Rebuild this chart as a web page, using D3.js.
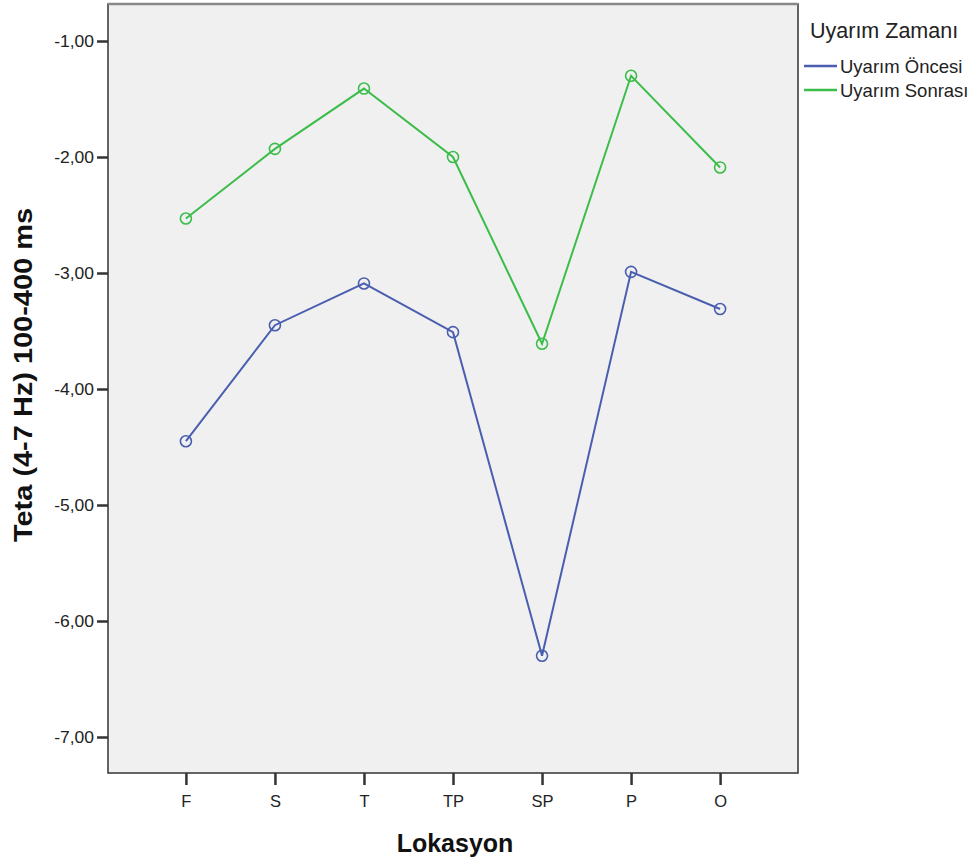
<!DOCTYPE html>
<html>
<head>
<meta charset="utf-8">
<script src="https://cdn.jsdelivr.net/npm/d3@7"></script>
<style>
  html, body { margin: 0; padding: 0; background: #ffffff; }
  svg { display: block; font-family: Arial, "Liberation Sans", sans-serif; }
</style>
</head>
<body>
<svg id="chart" width="975" height="865"></svg>
<script>
// Categories (x axis) and the two series of mean theta values
const locations = ["F", "S", "T", "TP", "SP", "P", "O"];
const oncesi = [-4.45, -3.45, -3.09, -3.51, -6.30, -2.99, -3.31];
const sonrasi = [-2.53, -1.93, -1.41, -2.00, -3.61, -1.30, -2.09];
const seriesNames = ["Uyarım Öncesi", "Uyarım Sonrası"];
const seriesColors = ["#4a5eb0", "#3cbd4a"];
const yTicks = [-1, -2, -3, -4, -5, -6, -7];

const svg = d3.select("#chart");
const plot = { left: 108, right: 798, top: 4, bottom: 773 };
const FONT = "Arial, 'Liberation Sans', sans-serif";

const x = d3.scalePoint()
  .domain(locations)
  .range([plot.left, plot.right])
  .padding(0.875);

const y = d3.scaleLinear()
  .domain([-7, -1])
  .range([737, 41]);

// Slightly widened lettering, as in the original export
function widen(sel, factor) {
  sel.each(function () {
    const w = this.getComputedTextLength();
    d3.select(this)
      .attr("textLength", w * factor)
      .attr("lengthAdjust", "spacingAndGlyphs");
  });
}

// Plot background and frame
svg.append("rect")
  .attr("x", plot.left).attr("y", plot.top)
  .attr("width", plot.right - plot.left)
  .attr("height", plot.bottom - plot.top)
  .attr("fill", "#f0f0f0")
  .attr("stroke", "#333")
  .attr("stroke-width", 1.5);

svg.append("line")
  .attr("x1", plot.left).attr("x2", plot.right)
  .attr("y1", plot.top).attr("y2", plot.top)
  .attr("stroke", "#888").attr("stroke-width", 2.5);

// Y axis
const yAxis = svg.append("g")
  .attr("transform", `translate(${plot.left},0)`)
  .call(d3.axisLeft(y)
    .tickValues(yTicks)
    .tickSize(11)
    .tickPadding(3)
    .tickFormat(d => d3.format(".2f")(d).replace(".", ",").replace("\u2212", "-")));
yAxis.select(".domain").remove();
yAxis.selectAll(".tick line").attr("stroke", "#333").attr("stroke-width", 2.5);
yAxis.selectAll(".tick text")
  .attr("font-size", 16.5).attr("fill", "#222")
  .attr("font-family", FONT)
  .call(widen, 1.06);

// X axis
const xAxis = svg.append("g")
  .attr("transform", `translate(0,${plot.bottom})`)
  .call(d3.axisBottom(x).tickSize(12).tickPadding(10));
xAxis.select(".domain").remove();
xAxis.selectAll(".tick line").attr("stroke", "#333").attr("stroke-width", 2.5);
xAxis.selectAll(".tick text")
  .attr("font-size", 16.5).attr("fill", "#222")
  .attr("font-family", FONT);

// Axis titles
svg.append("text")
  .attr("x", 455).attr("y", 852)
  .attr("text-anchor", "middle")
  .attr("font-size", 25).attr("font-weight", "bold").attr("fill", "#111")
  .text("Lokasyon");

svg.append("text")
  .attr("transform", "translate(32,375) rotate(-90)")
  .attr("text-anchor", "middle")
  .attr("font-size", 25).attr("font-weight", "bold").attr("fill", "#111")
  .attr("textLength", 334)
  .attr("lengthAdjust", "spacingAndGlyphs")
  .text("Teta (4-7 Hz) 100-400 ms");

// Lines and open circle markers
const line = d3.line()
  .x((d, i) => x(locations[i]))
  .y(d => y(d));

[oncesi, sonrasi].forEach((vals, si) => {
  const g = svg.append("g");
  g.append("path")
    .datum(vals)
    .attr("d", line)
    .attr("fill", "none")
    .attr("stroke", seriesColors[si])
    .attr("stroke-width", 2);
  g.selectAll("circle")
    .data(vals)
    .join("circle")
    .attr("cx", (d, i) => x(locations[i]))
    .attr("cy", d => y(d))
    .attr("r", 5.5)
    .attr("fill", "none")
    .attr("stroke", seriesColors[si])
    .attr("stroke-width", 1.6);
});

// Legend
const legend = svg.append("g");
legend.append("text")
  .attr("x", 810).attr("y", 38)
  .attr("font-size", 21.5).attr("fill", "#222")
  .text("Uyarım Zamanı");

seriesNames.forEach((name, i) => {
  const ly = 66 + i * 24;
  legend.append("line")
    .attr("x1", 804).attr("x2", 837)
    .attr("y1", ly).attr("y2", ly)
    .attr("stroke", seriesColors[i]).attr("stroke-width", 2.5);
  legend.append("text")
    .attr("x", 840).attr("y", ly + 7)
    .attr("font-size", 18.5).attr("fill", "#222")
    .text(name);
});
</script>
</body>
</html>
